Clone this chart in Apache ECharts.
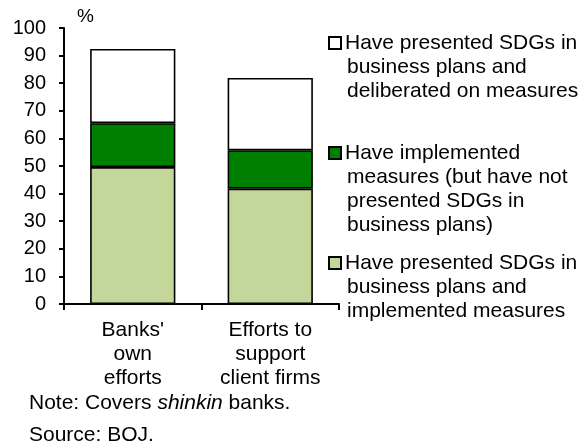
<!DOCTYPE html>
<html>
<head>
<meta charset="utf-8">
<script src="https://cdn.jsdelivr.net/npm/echarts@6/dist/echarts.min.js"></script>
<style>
html,body{margin:0;padding:0;background:#fff;}
#chart{width:587px;height:445px;}
</style>
</head>
<body>
<div id="chart"></div>
<script>
var categories = ["Banks'\nown\nefforts", "Efforts to\nsupport\nclient firms"];
var presentedAndImplemented = [49.6, 41.8];
var implementedNotPresented = [15.9, 13.9];
var presentedAndDeliberated = [26.9, 26.2];
var yTicks = [0, 100, 10];

var seriesNames = [
  'Have presented SDGs in business plans and implemented measures',
  'Have implemented measures (but have not presented SDGs in business plans)',
  'Have presented SDGs in business plans and deliberated on measures'
];
var legendLines = [
  ['Have presented SDGs in', 'business plans and', 'implemented measures'],
  ['Have implemented', 'measures (but have not', 'presented SDGs in', 'business plans)'],
  ['Have presented SDGs in', 'business plans and', 'deliberated on measures']
];
var colors = ['#c4d79b', '#008000', '#ffffff'];
var FONT = 'Liberation Sans, Arial, sans-serif';
var FS = 21;

function legendFor(idx, top) {
  var rich = {
    box: {width: 10, height: 10, backgroundColor: colors[idx], borderColor: '#000', borderWidth: 2},
    gap: {width: 5},
    sp: {width: 17},
    t: {fontFamily: FONT, fontSize: FS, color: '#000', lineHeight: 24}
  };
  return {
    show: true,
    orient: 'vertical',
    left: 324,
    top: top,
    padding: 0,
    itemWidth: 0,
    itemHeight: 0,
    selectedMode: false,
    data: [seriesNames[idx]],
    formatter: function () {
      var lines = legendLines[idx];
      var out = '{box|}{gap|}{t|' + lines[0] + '}';
      for (var i = 1; i < lines.length; i++) out += '\n{sp|}{t|' + lines[i] + '}';
      return out;
    },
    textStyle: {fontFamily: FONT, fontSize: FS, lineHeight: 24, rich: rich}
  };
}

var chart = echarts.init(document.getElementById('chart'), null, {renderer: 'canvas'});
var vals = [presentedAndImplemented, implementedNotPresented, presentedAndDeliberated];
var series = vals.map(function (v, i) {
  return {
    name: seriesNames[i],
    type: 'bar',
    stack: 'total',
    data: v,
    barWidth: '62%',
    itemStyle: {color: colors[i], borderColor: '#000', borderWidth: 1.6},
    emphasis: {disabled: true}
  };
});

chart.setOption({
  animation: false,
  backgroundColor: '#fff',
  grid: {left: 64, right: 248, top: 28, bottom: 141, containLabel: false},
  legend: [legendFor(2, 31), legendFor(1, 141), legendFor(0, 251)],
  xAxis: {
    type: 'category',
    data: categories,
    axisLine: {lineStyle: {color: '#000', width: 2}},
    axisTick: {show: true, length: 6, lineStyle: {color: '#000', width: 2}},
    axisLabel: {color: '#000', fontFamily: FONT, fontSize: FS, lineHeight: 24, margin: 14, interval: 0}
  },
  yAxis: {
    type: 'value',
    min: yTicks[0], max: yTicks[1], interval: yTicks[2],
    name: '%',
    nameLocation: 'end',
    nameGap: 2,
    nameTextStyle: {color: '#000', fontFamily: FONT, fontSize: 19, align: 'left', padding: [0, 0, 0, 13]},
    splitLine: {show: false},
    axisLine: {show: true, lineStyle: {color: '#000', width: 2}},
    axisTick: {show: true, inside: false, length: 5, lineStyle: {color: '#000', width: 2}},
    axisLabel: {color: '#000', fontFamily: FONT, fontSize: 20, margin: 18}
  },
  series: series,
  graphic: [
    {
      type: 'text', left: 29, top: 393,
      style: {
        text: '{n|Note: Covers }{i|shinkin}{n| banks.}',
        rich: {
          n: {fontFamily: FONT, fontSize: 21, fill: '#000'},
          i: {fontFamily: FONT, fontSize: 21, fontStyle: 'italic', fill: '#000'}
        }
      }
    },
    {
      type: 'text', left: 29, top: 425,
      style: {text: 'Source: BOJ.', fontFamily: FONT, fontSize: 21, fill: '#000'}
    }
  ]
});
</script>
</body>
</html>
